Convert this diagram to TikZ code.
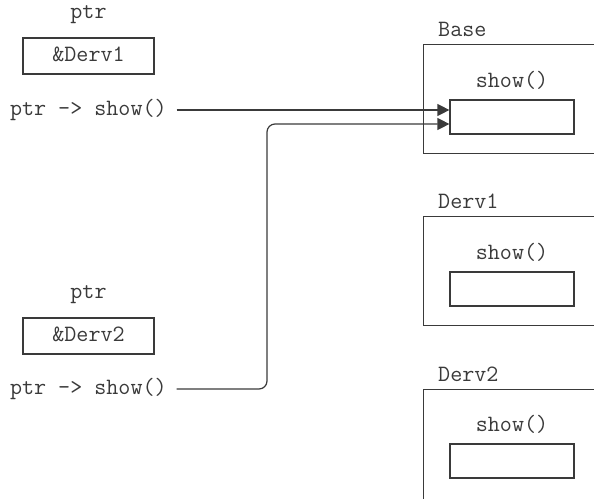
\documentclass[tikz,border=0pt]{standalone}
\usepackage{xcolor}
\usepackage{tikz}
\usetikzlibrary{arrows.meta,positioning}
\newcommand{\codetext}{\fontsize{23.4pt}{27pt}\selectfont\ttfamily}
\definecolor{ink}{HTML}{3A3A3A}

\begin{document}
\begin{tikzpicture}[
    x=1pt, y=-1pt,
    tag/.style={font=\codetext, text=ink, inner sep=0pt, text height=16pt, text depth=5pt},
    call/.style={tag, anchor=west, outer xsep=10pt},
    valbox/.style={tag, rectangle, draw=ink, line width=1.2pt, minimum width=131pt, minimum height=36pt},
    objbox/.style={rectangle, draw=ink, line width=1.2pt, minimum width=200pt, minimum height=109pt, anchor=north west},
    fnbox/.style={rectangle, draw=ink, line width=1.2pt, minimum width=124pt, minimum height=34pt},
    arrow/.style={-{Triangle[length=12pt, width=12pt]}, draw=ink, line width=1.2pt}
]
\clip (0,0) rectangle (594,498);

% Pointers
\node[valbox] (valA) at (88.5,56) {\&Derv1};
\node[tag, above=14pt of valA] (ptrA) {ptr};
\node[call] (callA) at (0,110) {ptr -> show()};

\node[valbox] (valB) at (88.5,336) {\&Derv2};
\node[tag, above=14pt of valB] (ptrB) {ptr};
\node[call] (callB) at (0,389) {ptr -> show()};

% Objects
\node[objbox] (baseObj) at (423,44) {};
\node[tag, above right=2pt and 15pt of baseObj.north west] (baseName) {Base};
\node[fnbox] (baseFn) at (512,117) {};
\node[tag, above=7pt of baseFn] (baseShow) {show()};

\node[objbox] (dervAObj) at (423,216) {};
\node[tag, above right=2pt and 15pt of dervAObj.north west] (dervAName) {Derv1};
\node[fnbox] (dervAFn) at (512,289) {};
\node[tag, above=7pt of dervAFn] (dervAShow) {show()};

\node[objbox, minimum height=140pt] (dervBObj) at (423,389) {};
\node[tag, above right=2pt and 15pt of dervBObj.north west] (dervBName) {Derv2};
\node[fnbox] (dervBFn) at (512,461) {};
\node[tag, above=7pt of dervBFn] (dervBShow) {show()};

% Calls
\coordinate (hop) at (267,124);
\draw[arrow] (callA.east) -- (callA.east -| baseFn.west);
\draw[arrow, rounded corners=8pt] (callB.east) -| (hop) -- (hop -| baseFn.west);

\end{tikzpicture}
\end{document}
